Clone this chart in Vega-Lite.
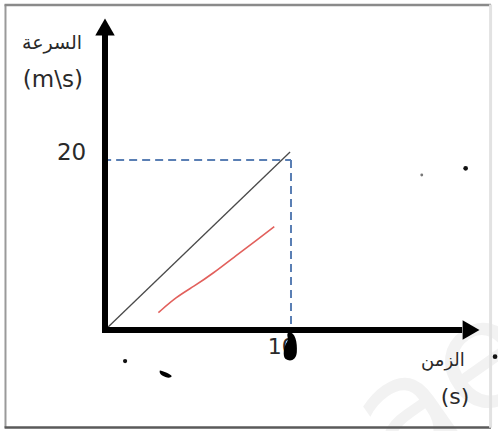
{
  "$schema": "https://vega.github.io/schema/vega-lite/v6.json",
  "width": 498,
  "height": 431,
  "autosize": {"type": "fit", "contains": "padding"},
  "padding": 0,
  "background": "white",
  "config": {"view": {"stroke": null}, "axis": {"disable": true}, "legend": {"disable": true}},
  "datasets": {
    "frame": [
      {"side": "left", "t": -5.35, "t2": -5.35, "v": 38.3, "v2": -11.5},
      {"side": "top", "t": -5.4, "t2": 20.75, "v": 38.24, "v2": 38.24},
      {"side": "bottom", "t": -5.4, "t2": 20.75, "v": -11.47, "v2": -11.47},
      {"side": "right", "t": 20.73, "t2": 20.73, "v": 38.3, "v2": -11.5}
    ],
    "axesShaft": [
      {"axis": "v", "t": 0, "t2": 0, "v": -0.35, "v2": 34.7},
      {"axis": "t", "t": -0.16, "t2": 19.2, "v": 0, "v2": 0}
    ],
    "arrowHeads": [
      {"axis": "v", "t": 0, "v": 35.65, "dir": "triangle-up"},
      {"axis": "t", "t": 19.68, "v": 0, "dir": "triangle-right"}
    ],
    "guides": [
      {"part": "h", "t": -0.1, "t2": 10, "v": 20, "v2": 20},
      {"part": "v", "t": 10, "t2": 10, "v": 20, "v2": 0}
    ],
    "motion": [
      {"t": 0, "v": 0},
      {"t": 9.95, "v": 20.94}
    ],
    "sketch": [
      {"i": 0, "t": 9.1, "v": 12.15},
      {"i": 1, "t": 8.16, "v": 10.59},
      {"i": 2, "t": 7.08, "v": 8.82},
      {"i": 3, "t": 5.82, "v": 6.67},
      {"i": 4, "t": 4.75, "v": 5.09},
      {"i": 5, "t": 3.85, "v": 3.92},
      {"i": 6, "t": 2.87, "v": 2.04}
    ],
    "labels": [
      {"text": "السرعة", "t": -2.85, "v": 33.8, "size": 19, "w": "bold"},
      {"text": "(m\\s)", "t": -2.8, "v": 29.4, "size": 23, "w": "normal"},
      {"text": "20", "t": -1.8, "v": 20.8, "size": 23, "w": "normal"},
      {"text": "10", "t": 9.5, "v": -2.0, "size": 22, "w": "normal"},
      {"text": "الزمن", "t": 18.17, "v": -3.7, "size": 18, "w": "bold"},
      {"text": "(s)", "t": 18.82, "v": -7.85, "size": 22, "w": "normal"}
    ],
    "specks": [
      {"t": 1.08, "v": -3.65, "s": 18, "shade": "#111"},
      {"t": 19.39, "v": 19.02, "s": 22, "shade": "#111"},
      {"t": 17.03, "v": 18.24, "s": 8, "shade": "#777"},
      {"t": 20.97, "v": -3.14, "s": 22, "shade": "#111"}
    ],
    "marks": [
      {"kind": "dash", "t": 3.23, "v": -5.29},
      {"kind": "blot", "t": 9.95, "v": -2.0}
    ],
    "watermark": [
      {"text": "ae", "t": 18.3, "v": -7.0}
    ]
  },
  "encoding": {
    "x": {"field": "t", "type": "quantitative", "scale": {"domain": [-5.645, 21.129], "nice": false, "zero": false}, "axis": null},
    "y": {"field": "v", "type": "quantitative", "scale": {"domain": [-11.882, 38.824], "nice": false, "zero": false}, "axis": null}
  },
  "layer": [
    {
      "data": {"name": "watermark"},
      "mark": {"type": "text", "fontSize": 150, "font": "DejaVu Sans", "color": "#f2f2f2", "angle": -35, "align": "center", "baseline": "middle", "clip": true},
      "encoding": {"text": {"field": "text"}}
    },
    {
      "data": {"name": "frame"},
      "mark": {"type": "rule"},
      "encoding": {
        "x2": {"field": "t2"},
        "y2": {"field": "v2"},
        "color": {"field": "side", "type": "nominal", "scale": {"domain": ["left", "top", "bottom", "right"], "range": ["#9a9a9a", "#8a8a8a", "#5a5a5a", "#e2e2e2"]}},
        "strokeWidth": {"field": "side", "type": "nominal", "scale": {"domain": ["left", "top", "bottom", "right"], "range": [2, 3, 2.5, 1.5]}}
      }
    },
    {
      "data": {"name": "guides"},
      "mark": {"type": "rule", "color": "#5a7fb4", "strokeWidth": 2, "strokeDash": [8, 5]},
      "encoding": {"x2": {"field": "t2"}, "y2": {"field": "v2"}}
    },
    {
      "data": {"name": "motion"},
      "mark": {"type": "line", "color": "#4a4a4a", "strokeWidth": 1.3},
      "encoding": {}
    },
    {
      "data": {"name": "sketch"},
      "mark": {"type": "line", "color": "#e2605c", "strokeWidth": 1.6, "interpolate": "basis"},
      "encoding": {"order": {"field": "i", "type": "quantitative"}}
    },
    {
      "data": {"name": "axesShaft"},
      "mark": {"type": "rule", "color": "#000000", "strokeWidth": 6},
      "encoding": {"x2": {"field": "t2"}, "y2": {"field": "v2"}}
    },
    {
      "data": {"name": "arrowHeads"},
      "mark": {"type": "point", "filled": true, "color": "#000000", "opacity": 1, "size": 380},
      "encoding": {"shape": {"field": "dir", "type": "nominal", "scale": null}}
    },
    {
      "data": {"name": "labels"},
      "mark": {"type": "text", "font": "DejaVu Sans", "color": "#2a2a2a", "align": "center", "baseline": "middle"},
      "encoding": {
        "text": {"field": "text"},
        "size": {"field": "size", "type": "quantitative", "scale": null},
        "fontWeight": {"field": "w", "type": "nominal", "scale": null}
      }
    },
    {
      "data": {"name": "specks"},
      "mark": {"type": "point", "filled": true, "shape": "circle", "opacity": 1},
      "encoding": {
        "size": {"field": "s", "type": "quantitative", "scale": null},
        "color": {"field": "shade", "type": "nominal", "scale": null}
      }
    },
    {
      "data": {"name": "marks"},
      "transform": [{"filter": "datum.kind === 'dash'"}],
      "mark": {"type": "point", "filled": true, "color": "#000", "opacity": 1, "size": 170, "angle": 22, "shape": "M-1,-0.3 C-1,-0.45 1,-0.45 1,-0.2 C1,0.45 -1,0.45 -1,-0.3 Z"},
      "encoding": {}
    },
    {
      "data": {"name": "marks"},
      "transform": [{"filter": "datum.kind === 'blot'"}],
      "mark": {"type": "point", "filled": true, "color": "#000", "opacity": 1, "size": 900, "shape": "M-0.1,-1 C0.35,-1 0.5,-0.3 0.45,0.35 C0.4,0.9 0,1 -0.3,0.8 C-0.5,0.6 -0.45,0.05 -0.2,-0.35 C-0.05,-0.6 -0.3,-0.8 -0.1,-1 Z"},
      "encoding": {}
    }
  ]
}
